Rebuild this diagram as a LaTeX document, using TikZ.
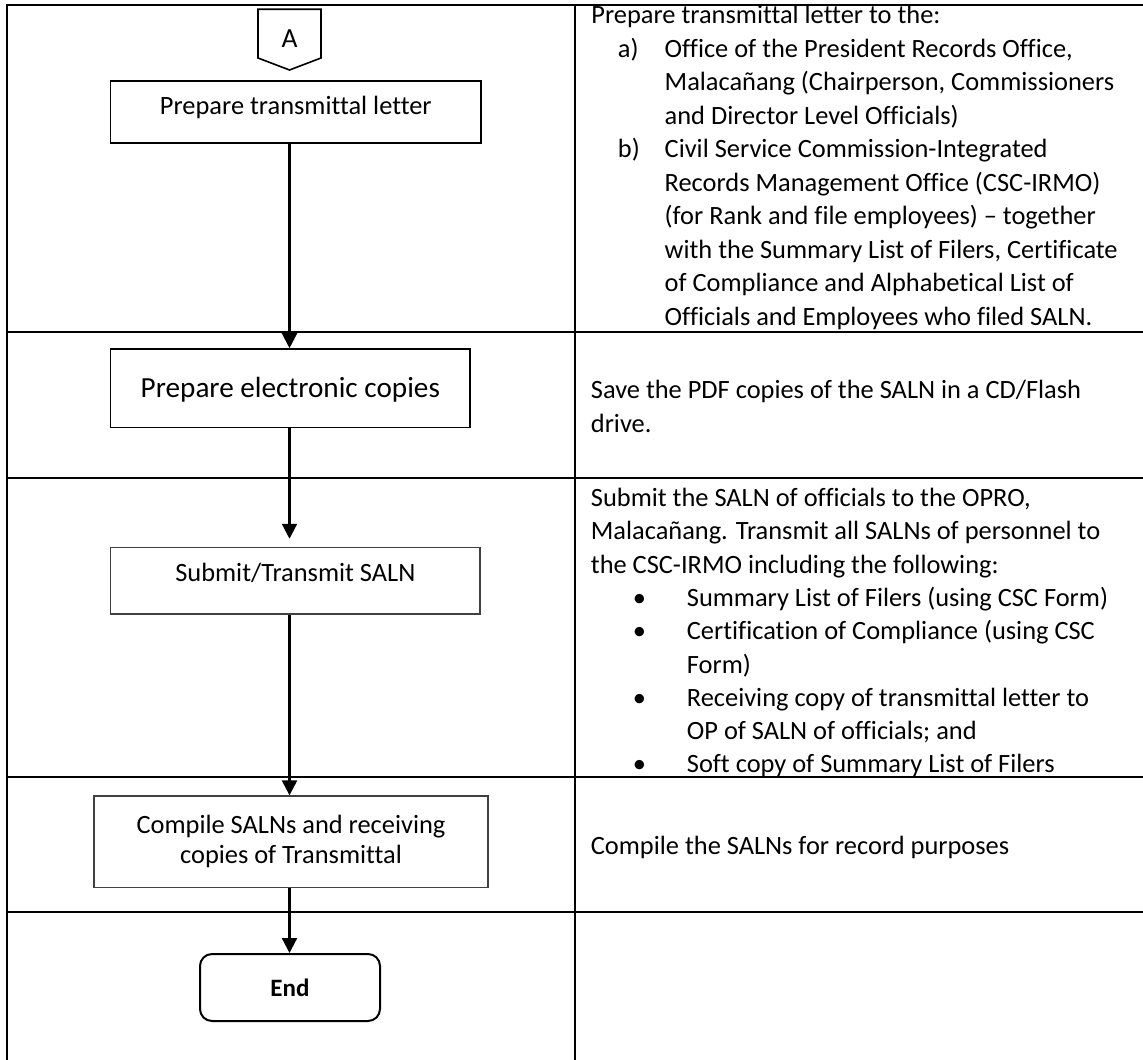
\documentclass[tikz,border=0pt]{standalone}
\usepackage{fontspec}
\setmainfont{Carlito}[Ligatures={NoCommon}]
\usetikzlibrary{arrows.meta}
\begin{document}
\begin{tikzpicture}[x=0.5pt,y=-0.5pt,
  tbl/.style={line width=1pt},
  stepbox/.style={draw, line width=0.85pt, inner sep=0pt, font=\fontsize{13.2}{15}\selectfont, text height=8.45pt},
  thinbox/.style={draw=black!75, line width=0.6pt, inner sep=0pt, font=\fontsize{13.2}{15}\selectfont},
  endbox/.style={draw, line width=1pt, rounded corners=6pt, inner sep=0pt, font=\fontsize{12.5}{15}\selectfont\bfseries},
  arr/.style={line width=1.1pt, -{Triangle[length=7.5pt,width=7.5pt]}},
  rtext/.style={inner sep=0pt, anchor=base west, font=\fontsize{13.2}{16.75}\selectfont}]
\useasboundingbox (0,0) rectangle (1143,1059);
\clip (0,0) rectangle (1143,1059);
% table
\draw[tbl] (6.5,1060) -- (6.5,5) -- (1144,5);
\draw[tbl] (575,5) -- (575,1060);
\foreach \yy in {331.7,477.5,777.3,911.7} \draw[tbl] (6.5,\yy) -- (1144,\yy);
% off-page connector A
\node[font=\fontsize{13.8}{15}\selectfont, inner sep=0pt] (A) at (289.5,39) {A};
\draw[line width=0.8pt] (258,9.3) -- (321,9.3) -- (321,58) -- (289.5,70) -- (258,58) -- cycle;
% process boxes
\node[stepbox, minimum width=185.2pt, minimum height=31pt, text depth=5.7pt] (b1) at (295.8,111.7) {Prepare transmittal letter};
\node[stepbox, font=\fontsize{14.6}{17}\selectfont, text height=9.34pt, text depth=0pt, minimum width=179.7pt, minimum height=39.15pt] (b2) at (290.3,388.2) {Prepare electronic copies};
\node[thinbox, text height=8.45pt, text depth=7.7pt, minimum width=184.65pt, minimum height=33.35pt] (b3) at (295.35,580.7) {Submit/Transmit SALN};
\node[thinbox, align=center, minimum width=197pt, minimum height=45.85pt] (b4) at (291,841.8) {Compile SALNs and receiving\\copies of Transmittal};
\node[endbox, minimum width=90pt, minimum height=33.5pt] (e) at (290,987.5) {End};
% connectors
\draw[arr] (b1.south -| A.center) -- (b2.north -| A.center);
\draw[arr, shorten >=4pt] (b2.south -| A.center) -- (b3.north -| A.center);
\draw[arr] (b3.south -| A.center) -- (b4.north -| A.center);
\draw[arr] (b4.south -| A.center) -- (e.north -| A.center);
% right column
\node[rtext] (r1) at (591,24) {\parbox[t]{300pt}{Prepare transmittal letter to the:\\
\hspace*{13.25pt}\makebox[23.4pt][l]{a)}Office of the President Records Office,\\
\hspace*{36.65pt}Malacañang (Chairperson, Commissioners\\
\hspace*{36.65pt}and Director Level Officials)\\
\hspace*{13.25pt}\makebox[23.4pt][l]{b)}Civil Service Commission-Integrated\\
\hspace*{36.65pt}Records Management Office (CSC-IRMO)\\
\hspace*{36.65pt}(for Rank and file employees) – together\\
\hspace*{36.65pt}with the Summary List of Filers, Certificate\\
\hspace*{36.65pt}of Compliance and Alphabetical List of\\
\hspace*{36.65pt}Officials and Employees who filed SALN.}};
\node[rtext] (r2) at (590.5,398.5) {\parbox[t]{300pt}{Save the PDF copies of the SALN in a CD/Flash\\drive.}};
\node[rtext, font=\fontsize{13.2}{16.65}\selectfont] (r3) at (590.5,506.5) {\parbox[t]{300pt}{Submit the SALN of officials to the OPRO,\\
Malacañang. Transmit all SALNs of personnel to\\
the CSC-IRMO including the following:\\
\hspace*{21pt}\makebox[27pt][l]{•}Summary List of Filers (using CSC Form)\\
\hspace*{21pt}\makebox[27pt][l]{•}Certification of Compliance (using CSC\\
\hspace*{48pt}Form)\\
\hspace*{21pt}\makebox[27pt][l]{•}Receiving copy of transmittal letter to\\
\hspace*{48pt}OP of SALN of officials; and\\
\hspace*{21pt}\makebox[27pt][l]{•}Soft copy of Summary List of Filers}};
\node[rtext] (r4) at (590.5,854) {Compile the SALNs for record purposes};
\end{tikzpicture}
\end{document}
